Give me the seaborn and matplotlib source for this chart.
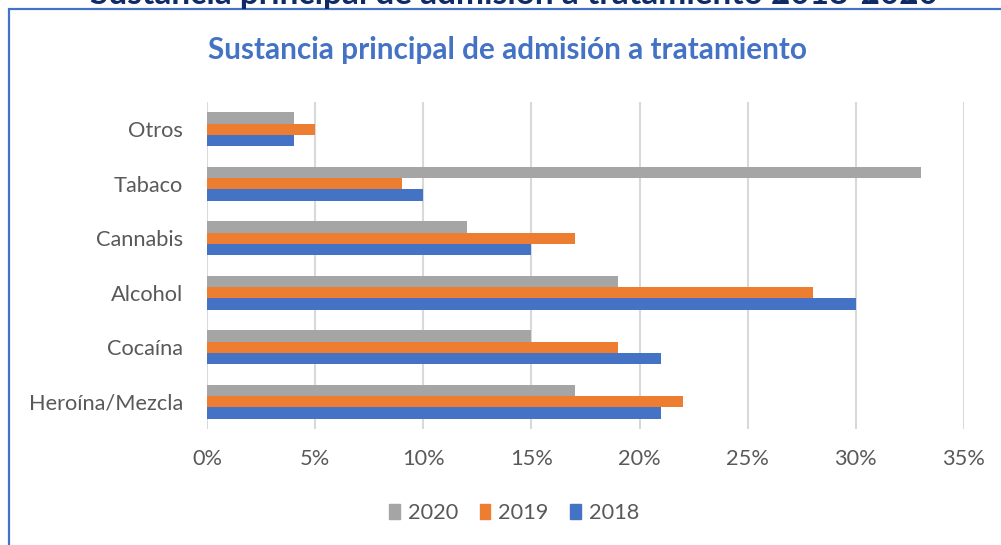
import matplotlib
matplotlib.use("Agg")
import matplotlib.pyplot as plt
import matplotlib.patches as mpatches
from matplotlib.ticker import FuncFormatter, MultipleLocator
import seaborn as sns
import pandas as pd

categories = ["Otros", "Tabaco", "Cannabis", "Alcohol", "Cocaína", "Heroína/Mezcla"]
years = ["2020", "2019", "2018"]
values_2020 = [4, 33, 12, 19, 15, 17]
values_2019 = [5, 9, 17, 28, 19, 22]
values_2018 = [4, 10, 15, 30, 21, 21]
colors = {"2020": "#A5A5A5", "2019": "#ED7D31", "2018": "#4472C4"}

df = pd.DataFrame({
    "Sustancia": categories * 3,
    "Año": ["2020"] * 6 + ["2019"] * 6 + ["2018"] * 6,
    "Valor": values_2020 + values_2019 + values_2018,
})

sns.set_theme(style="white")
plt.rcParams["font.family"] = ["Lato", "DejaVu Sans"]

W, H = 1001, 545
fig = plt.figure(figsize=(W / 100, H / 100), dpi=100)
renderer = fig.canvas.get_renderer()


def fit_size(text, target_px, weight="normal"):
    t = fig.text(0, 0, text, fontsize=10, fontweight=weight)
    w = t.get_window_extent(renderer=renderer).width
    t.remove()
    return 10 * target_px / w


label_fs = fit_size("Heroína/Mezcla", 154)
title_fs = fit_size("Sustancia principal de", 287, "bold")
top_fs = fit_size("Sustancia principal", 277, "bold")

ax = fig.add_axes([207 / W, 1 - 429 / H, 757 / W, 327 / H])

sns.barplot(data=df, x="Valor", y="Sustancia", hue="Año", order=categories,
            hue_order=years, palette=colors, orient="h", width=0.63,
            saturation=1, linewidth=0, ax=ax, legend=False)

ax.set_xlim(0, 35)
ax.set_ylim(5.5, -0.5)
ax.xaxis.set_major_locator(MultipleLocator(5))
ax.xaxis.set_major_formatter(FuncFormatter(lambda v, p: f"{int(round(v))}%"))
ax.grid(axis="x", color="#D9D9D9", linewidth=1.5)
ax.set_axisbelow(True)
for s in ax.spines.values():
    s.set_visible(False)
ax.set_xlabel("")
ax.set_ylabel("")
ax.tick_params(axis="both", length=0, labelsize=label_fs, colors="#595959")
ax.tick_params(axis="y", pad=24 * 0.72)
ax.tick_params(axis="x", pad=20 * 0.72)

# Title
fig.text(208 / W, 1 - 50 / H, "Sustancia principal de admisión a tratamiento",
         ha="left", va="center", fontsize=title_fs, fontweight="bold", color="#4472C4")

# Cut-off outer title
fig.text(90 / W, 1 - 4 / H, "Sustancia principal de admisión a tratamiento 2018-2020",
         ha="left", va="baseline", fontsize=top_fs, fontweight="bold", color="#0F2A66")

# Frame
rect = mpatches.Rectangle((9 / W, -0.2), 1.2, 1.2 - 9 / H, transform=fig.transFigure,
                          fill=False, edgecolor="#4472C4", linewidth=1.6, clip_on=False)
fig.patches.append(rect)

# Legend
handles = [mpatches.Patch(color=colors[y], label=y) for y in years]
fig.legend(handles=handles, loc="center", bbox_to_anchor=(514 / W, 1 - 513 / H),
           ncol=3, frameon=False, fontsize=label_fs, handlelength=0.5, handleheight=0.65,
           handletextpad=0.35, columnspacing=1.0, labelcolor="#595959")

fig.savefig("out.png", dpi=100)
